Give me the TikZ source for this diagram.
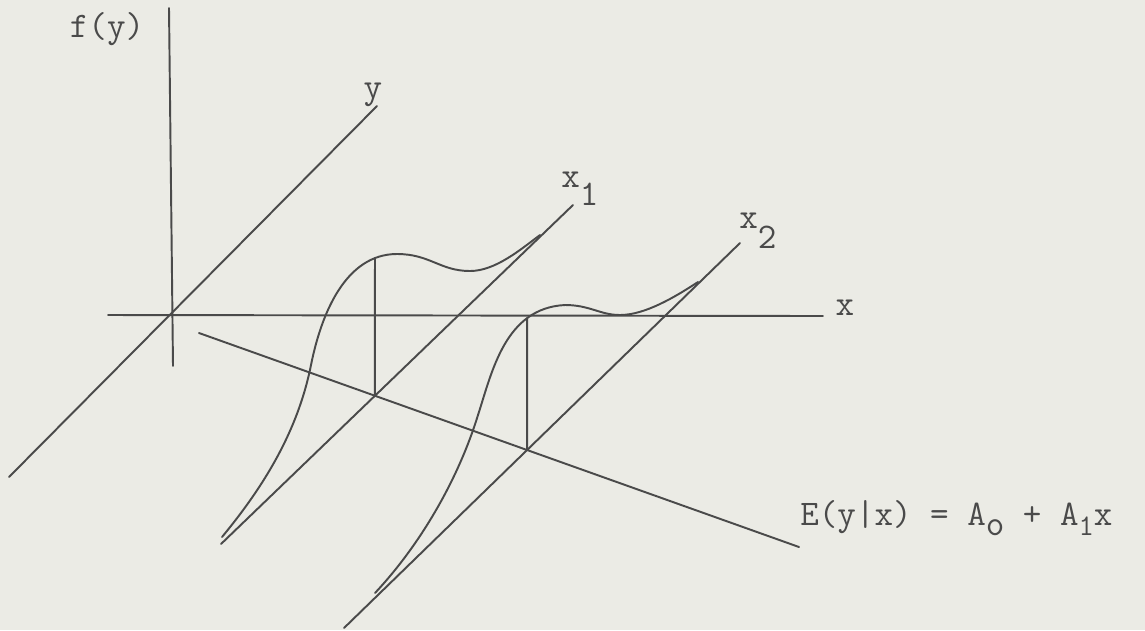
\documentclass[tikz,border=0pt]{standalone}
\usetikzlibrary{calc,intersections}
\definecolor{paper}{HTML}{EBEBE5}
\definecolor{ink}{HTML}{4A4A4A}
\tikzset{
  ax/.style={draw=ink, line width=1.1pt, line cap=round},
  crv/.style={draw=ink, line width=1.1pt, line cap=round},
  lbl/.style={text=ink, font=\fontsize{20.5}{24}\selectfont\ttfamily, inner sep=0pt, anchor=base},
}
\begin{document}
\begin{tikzpicture}[x=0.02cm, y=-0.02cm]
\fill[paper] (0,0) rectangle (1145,630);
\useasboundingbox (0,0) rectangle (1145,630);
% axis end points
\coordinate (fTop) at (169,8);
\coordinate (fBot) at (173,366);
\coordinate (xL) at (108,315);
\coordinate (xR) at (823,316);
\coordinate (yL) at (9,477);
\coordinate (yR) at (377,106);
\coordinate (eL) at (199,333);
\coordinate (eR) at (799,547);
\coordinate (aL) at (221,544);
\coordinate (aR) at (573,205);
\coordinate (bL) at (344,628);
\coordinate (bR) at (740,243);
\coordinate (e1) at (intersection of eL--eR and aL--aR);
\coordinate (e2) at (intersection of eL--eR and bL--bR);
% axes
\draw[ax] (fTop) -- (fBot);
\draw[ax] (xL) -- (xR);
\draw[ax] (yL) -- (yR);
\draw[ax] (eL) -- (eR);
\draw[ax] (aL) -- (aR);
\draw[ax] (bL) -- (bR);
% density curves
\draw[crv, name path=c1] (222,537) .. controls (265,485) and (298,430) .. (311,365)
  .. controls (321,315) and (345,254) .. (397,254)
  .. controls (430,254) and (440,271) .. (470,271)
  .. controls (495,271) and (520,250) .. (540,235);
\draw[crv, name path=c2] (375,593) .. controls (420,545) and (458,480) .. (478,415)
  .. controls (492,372) and (505,308) .. (565,305)
  .. controls (590,305) and (600,315) .. (620,315)
  .. controls (645,315) and (675,297) .. (698,282);
% vertical lines from the regression line to the curves
\path[name path=v1] (e1) -- ++(0,-250);
\path[name path=v2] (e2) -- ++(0,-250);
\path[name intersections={of=v1 and c1, by={p1}}];
\path[name intersections={of=v2 and c2, by={p2}}];
\draw[ax] (e1) -- (p1);
\draw[ax] (e2) -- (p2);
% labels
\node[lbl] (lf) at (107,37) {f(y)};
\node[lbl] (ly) at (373,98) {y};
\node[lbl, anchor=base west] (lx1) at (561,187) {x\raisebox{-0.36cm}{1}};
\node[lbl, anchor=base west] (lx2) at (739,228) {x\raisebox{-0.40cm}{2}};
\node[lbl] (lx) at (845,315) {x};
\node[lbl, anchor=base west] (le) at (800,525) {E(y|x) = A\raisebox{-0.2cm}{o} + A\raisebox{-0.2cm}{\fontsize{17}{18}\selectfont 1}x};
\end{tikzpicture}
\end{document}
